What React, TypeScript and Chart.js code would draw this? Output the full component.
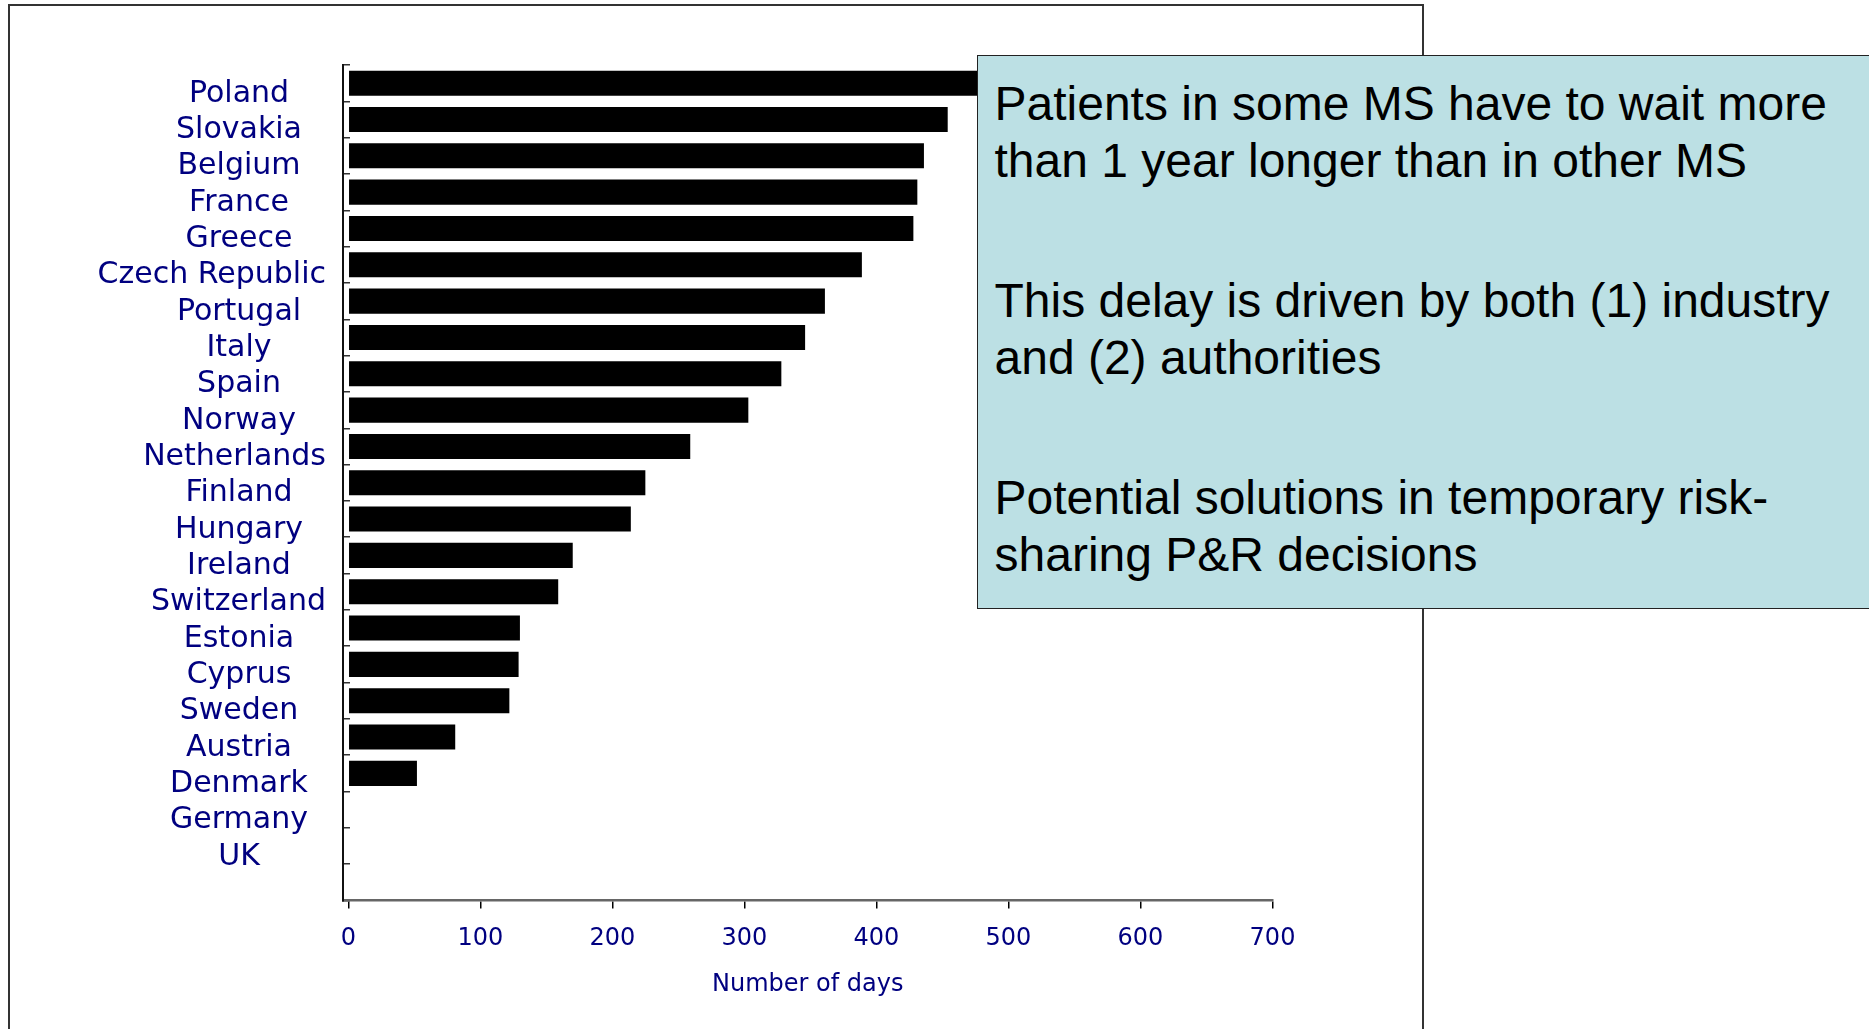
import React, { useEffect, useRef } from 'react';
import { Chart, registerables } from 'chart.js';

Chart.register(...registerables);

const countries = [
  'Poland', 'Slovakia', 'Belgium', 'France', 'Greece', 'Czech Republic', 'Portugal',
  'Italy', 'Spain', 'Norway', 'Netherlands', 'Finland', 'Hungary', 'Ireland',
  'Switzerland', 'Estonia', 'Cyprus', 'Sweden', 'Austria', 'Denmark', 'Germany', 'UK',
];
const days = [540, 454, 436, 431, 428, 389, 361, 346, 328, 303, 259, 225, 214, 170, 159, 130, 129, 122, 81, 52, 0, 0];
const xTicks = [0, 100, 200, 300, 400, 500, 600, 700];
const xAxisTitle = 'Number of days';
const notes = [
  ['Patients in some MS have to wait more', 'than 1 year longer than in other MS'],
  ['This delay is driven by both (1) industry', 'and (2) authorities'],
  ['Potential solutions in temporary risk-', 'sharing P&R decisions'],
];

const NAVY = '#000080';
const LABEL_FONT = '30px "DejaVu Sans"';

const labelPlugin = {
  id: 'countryLabels',
  afterDraw(chart: any) {
    const ctx = chart.ctx;
    const y = chart.scales.y;
    ctx.save();
    ctx.font = LABEL_FONT;
    ctx.fillStyle = NAVY;
    ctx.textAlign = 'center';
    ctx.textBaseline = 'alphabetic';
    countries.forEach((c, i) => {
      const w = ctx.measureText(c).width;
      const cx = Math.min(239, y.right - 17 - w / 2);
      ctx.fillText(c, cx, y.getPixelForValue(i) + 18.5);
    });
    ctx.restore();
  },
};

export default function App() {
  const ref = useRef<HTMLCanvasElement>(null);

  useEffect(() => {
    if (!ref.current) return;
    const chart = new Chart(ref.current, {
      type: 'bar',
      data: {
        labels: [...countries, ''],
        datasets: [
          {
            data: [...days, null],
            backgroundColor: '#000000',
            borderWidth: 0,
            barPercentage: 0.69,
            categoryPercentage: 1,
          },
        ],
      },
      options: {
        indexAxis: 'y',
        responsive: false,
        animation: false,
        layout: { padding: { top: 65, right: 596.5, bottom: 0, left: 0 } },
        plugins: { legend: { display: false }, tooltip: { enabled: false } },
        scales: {
          x: {
            type: 'linear',
            min: -4,
            max: 700,
            afterBuildTicks: (s: any) => {
              s.ticks = xTicks.map((v) => ({ value: v }));
            },
            afterFit: (s: any) => {
              s.height = 128.5;
            },
            grid: { drawOnChartArea: false, drawTicks: true, tickLength: 8, color: '#000', lineWidth: 1.5 },
            border: { display: true, color: '#666', width: 2.5 },
            ticks: {
              color: NAVY,
              font: { family: 'DejaVu Sans', size: 24 },
              padding: 16,
              maxRotation: 0,
              autoSkip: false,
            },
            title: {
              display: true,
              text: xAxisTitle,
              color: NAVY,
              font: { family: 'DejaVu Sans', size: 24 },
              padding: { top: 20, bottom: 30 },
            },
          },
          y: {
            type: 'category',
            afterFit: (s: any) => {
              s.width = 343;
            },
            ticks: { display: false },
            grid: { drawOnChartArea: false, drawTicks: true, tickLength: -7, color: '#333', lineWidth: 1.5, offset: true },
            border: { display: true, color: '#111', width: 2 },
          },
        },
      },
      plugins: [labelPlugin],
    });
    return () => chart.destroy();
  }, []);

  return (
    <div
      style={{
        position: 'fixed',
        left: 0,
        top: 0,
        width: 1869,
        height: 1029,
        overflow: 'hidden',
        background: '#ffffff',
      }}
    >
      <div
        style={{
          position: 'absolute',
          left: 8,
          top: 3.5,
          width: 1416,
          height: 1100,
          border: '2px solid #333',
          boxSizing: 'border-box',
        }}
      />
      <canvas ref={ref} width={1869} height={1029} style={{ position: 'absolute', left: 0, top: 0 }} />
      <div
        style={{
          position: 'absolute',
          left: 976.5,
          top: 55,
          width: 1000,
          height: 554,
          background: '#BCE0E4',
          border: '1.5px solid #222',
          boxSizing: 'border-box',
          fontFamily: '"Liberation Sans", Arial, sans-serif',
          fontSize: 48,
          lineHeight: '57.3px',
          color: '#000',
          paddingLeft: 17,
          paddingTop: 19.2,
          whiteSpace: 'nowrap',
        }}
      >
        {notes.map((p, i) => (
          <div key={i} style={{ marginTop: i === 0 ? 0 : 82.1 }}>
            {p.map((line, j) => (
              <div key={j}>{line}</div>
            ))}
          </div>
        ))}
      </div>
    </div>
  );
}
